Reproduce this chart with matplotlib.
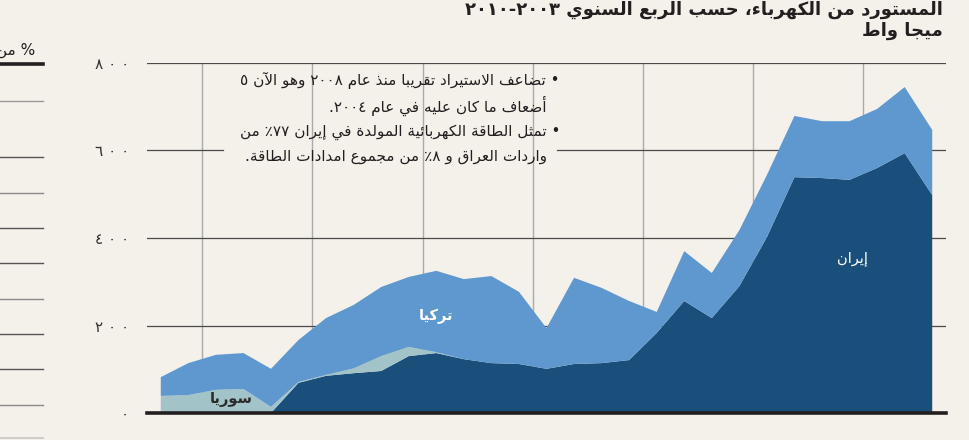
import re
import numpy as np
import matplotlib.pyplot as plt
from matplotlib.lines import Line2D

# --- تشكيل النص العربي يدويا (matplotlib لا يقوم بربط الحروف) ---
_AR = {'ء': (0xFE80, 1), 'آ': (0xFE81, 2), 'أ': (0xFE83, 2), 'ؤ': (0xFE85, 2),
       'إ': (0xFE87, 2), 'ئ': (0xFE89, 4), 'ا': (0xFE8D, 2), 'ب': (0xFE8F, 4),
       'ة': (0xFE93, 2), 'ت': (0xFE95, 4), 'ث': (0xFE99, 4), 'ج': (0xFE9D, 4),
       'ح': (0xFEA1, 4), 'خ': (0xFEA5, 4), 'د': (0xFEA9, 2), 'ذ': (0xFEAB, 2),
       'ر': (0xFEAD, 2), 'ز': (0xFEAF, 2), 'س': (0xFEB1, 4), 'ش': (0xFEB5, 4),
       'ص': (0xFEB9, 4), 'ض': (0xFEBD, 4), 'ط': (0xFEC1, 4), 'ظ': (0xFEC5, 4),
       'ع': (0xFEC9, 4), 'غ': (0xFECD, 4), 'ف': (0xFED1, 4), 'ق': (0xFED5, 4),
       'ك': (0xFED9, 4), 'ل': (0xFEDD, 4), 'م': (0xFEE1, 4), 'ن': (0xFEE5, 4),
       'ه': (0xFEE9, 4), 'و': (0xFEED, 2), 'ى': (0xFEEF, 2), 'ي': (0xFEF1, 4)}
_LAMALEF = {'آ': 0xFEF5, 'أ': 0xFEF7, 'إ': 0xFEF9, 'ا': 0xFEFB}


def shape(s):
    out = []
    prev_dual = False
    i = 0
    while i < len(s):
        c = s[i]
        nxt = s[i + 1] if i + 1 < len(s) else ''
        if c == 'ل' and nxt in _LAMALEF:
            out.append(chr(_LAMALEF[nxt] + (1 if prev_dual else 0)))
            prev_dual = False
            i += 2
            continue
        if c in _AR:
            base, k = _AR[c]
            p = prev_dual and k > 1
            q = k == 4 and nxt in _AR and _AR[nxt][1] > 1
            if p and q:
                g = base + 3
            elif p:
                g = base + 1
            elif q:
                g = base + 2
            else:
                g = base
            out.append(chr(g))
            prev_dual = k == 4
        else:
            out.append(c)
            prev_dual = False
        i += 1
    return ''.join(out)


def ar(s):
    runs = re.findall(r'[0-9\u0660-\u0669]+|[^0-9\u0660-\u0669]', shape(s))
    return ''.join(reversed(runs))


# --- البيانات: ميجا واط، ربع سنوي من الربع الثالث ٢٠٠٣ الى الربع الثالث ٢٠١٠ ---
quarters = np.arange(29)
iran = [0, 0, 0, 0, 0, 69, 85, 91, 96, 130, 137, 123, 114, 112, 101, 112,
        114, 121, 183, 256, 217, 290, 402, 539, 537, 533, 560, 594, 498]
syria = [39, 41, 53, 55, 14, 2, 2, 11, 34, 21, 2, 0, 0, 0, 0, 0,
         0, 0, 0, 0, 0, 0, 0, 0, 0, 0, 0, 0, 0]
turkey = [43, 73, 80, 82, 87, 96, 130, 145, 158, 160, 186, 183, 199, 165, 93, 197,
          172, 135, 48, 114, 103, 128, 142, 140, 130, 134, 135, 151, 149]
year_bounds = [1.5, 5.5, 9.5, 13.5, 17.5, 21.5, 25.5]
yticks = [0, 200, 400, 600, 800]
ylabels = ['٠', '٢ ٠ ٠', '٤ ٠ ٠', '٦ ٠ ٠', '٨ ٠ ٠']

bg = '#f4f0ea'
c_iran = '#1a4f7c'
c_turkey = '#5e98cf'
c_syria = '#a2c3c8'

plt.rcParams['font.family'] = ['DejaVu Sans']

fig = plt.figure(figsize=(9.69, 4.40), dpi=100, facecolor=bg)
ax = fig.add_axes([147 / 969, 1 - 413 / 440, 799 / 969, 350 / 440])
ax.set_facecolor(bg)

ax.stackplot(quarters, iran, syria, turkey, colors=[c_iran, c_syria, c_turkey],
             linewidth=0, zorder=2)

ax.set_xlim(-0.5, 28.5)
ax.set_ylim(0, 800)

# خطوط الشبكة
for b in year_bounds:
    ax.axvline(b, color='#ababab', lw=1.0, zorder=1)
for v in yticks[1:]:
    if v == 600:
        ax.axhline(v, xmin=0, xmax=0.095, color='#4a4a4a', lw=0.9, zorder=1)
        ax.axhline(v, xmin=0.513, xmax=1, color='#4a4a4a', lw=0.9, zorder=1)
    else:
        ax.axhline(v, color='#4a4a4a', lw=0.9, zorder=1)

for s in ['top', 'right', 'left']:
    ax.spines[s].set_visible(False)
ax.spines['bottom'].set_color('#231f20')
ax.spines['bottom'].set_linewidth(2.6)
ax.spines['bottom'].set_zorder(3)

ax.set_xticks([])
ax.set_yticks(yticks)
ax.set_yticklabels(ylabels)
ax.tick_params(axis='y', length=0, pad=13, labelsize=11, labelcolor='#333333')

# تسميات المناطق
ax.text(10, 222, ar('تركيا'), color='white', fontsize=10.5, fontweight='bold',
        ha='center', va='center', zorder=4)
ax.text(2.55, 32, ar('سوريا'), color='#2b2b2b', fontsize=10.5, fontweight='bold',
        ha='center', va='center', zorder=4)
ax.text(25.1, 354, ar('إيران'), color='white', fontsize=10.5,
        ha='center', va='center', zorder=4)

# الملاحظات
notes = [
    ('• تضاعف الاستيراد تقريبا منذ عام ٢٠٠٨ وهو الآن ٥', 560, 80),
    ('أضعاف ما كان عليه في عام ٢٠٠٤.', 547, 106),
    ('• تمثل الطاقة الكهربائية المولدة في إيران ٧٧٪ من', 560, 132),
    ('واردات العراق و ٨٪ من مجموع امدادات الطاقة.', 547, 157),
]
for txt, xr, yp in notes:
    fig.text(xr / 969, 1 - yp / 440, ar(txt), ha='right', va='center',
             fontsize=11, color='#231f20')

# العنوان
fig.text(943 / 969, 1 - 15 / 440, ar('المستورد من الكهرباء، حسب الربع السنوي ٢٠٠٣-٢٠١٠'),
         ha='right', va='baseline', fontsize=13, fontweight='bold', color='#231f20')
fig.text(943 / 969, 1 - 36 / 440, ar('ميجا واط'),
         ha='right', va='baseline', fontsize=13, fontweight='bold', color='#231f20')

# جزء من اللوحة المجاورة على اليسار
fig.text(35 / 969, 1 - 50 / 440, ar('من') + ' %', ha='right', va='center',
         fontsize=11, color='#231f20')
fig.add_artist(Line2D([0, 43 / 969], [1 - 64 / 440] * 2, color='#231f20', lw=2.6))
left_rows = [101, 157, 193, 228, 263, 299, 334, 369, 405]
left_cols = ['#9a9a9a', '#555555', '#8a8a8a', '#555555', '#555555',
             '#8a8a8a', '#555555', '#555555', '#8a8a8a']
for yp, col in zip(left_rows, left_cols):
    fig.add_artist(Line2D([0, 43 / 969], [1 - yp / 440] * 2, color=col, lw=1.0))
fig.add_artist(Line2D([0, 43 / 969], [1 - 438 / 440] * 2, color='#d0cdc8', lw=1.5))

fig.savefig('out.png', dpi=100, facecolor=bg)
